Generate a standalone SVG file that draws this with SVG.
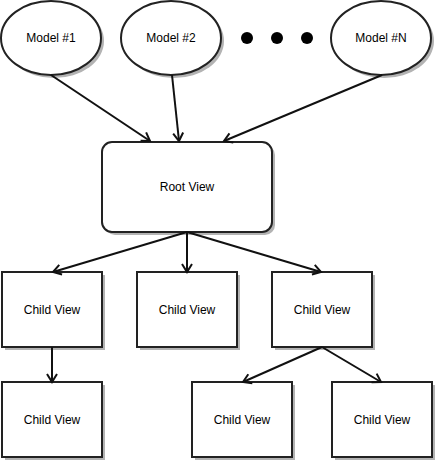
<svg xmlns="http://www.w3.org/2000/svg" width="438" height="463" viewBox="0 0 438 463">
<defs>
<style>
.shape{fill:#fff;stroke:#222;stroke-width:2}
.shadow{fill:#b3b3b3;stroke:none}
.lbl{font-family:"Liberation Sans",Arial,sans-serif;font-size:12px;fill:#000;text-anchor:middle;dominant-baseline:central}
.edge{fill:none;stroke:#111;stroke-width:2}
</style>
<marker id="arr" markerUnits="userSpaceOnUse" markerWidth="14" markerHeight="14" viewBox="0 0 14 14" refX="12" refY="7" orient="auto">
<path d="M4,2 L12,7 L4,12" fill="none" stroke="#111" stroke-width="2"/>
</marker>
</defs>
<rect width="438" height="463" fill="#fff"/>
<g id="model1"><ellipse class="shadow" cx="54" cy="41" rx="50" ry="37"/><ellipse class="shape" cx="51" cy="38" rx="50" ry="37"/><text class="lbl" x="51" y="38">Model #1</text></g>
<g id="model2"><ellipse class="shadow" cx="174" cy="41" rx="50" ry="37"/><ellipse class="shape" cx="171" cy="38" rx="50" ry="37"/><text class="lbl" x="171" y="38">Model #2</text></g>
<g id="dots"><circle cx="247" cy="38" r="6" fill="#000"/><circle cx="277" cy="38" r="6" fill="#000"/><circle cx="307" cy="38" r="6" fill="#000"/></g>
<g id="modelN"><ellipse class="shadow" cx="384" cy="41" rx="50" ry="37"/><ellipse class="shape" cx="381" cy="38" rx="50" ry="37"/><text class="lbl" x="381" y="38">Model #N</text></g>
<g id="root"><rect class="shadow" x="105" y="145" width="170" height="90" rx="10"/><rect class="shape" x="102" y="142" width="170" height="90" rx="10"/><text class="lbl" x="187" y="187">Root View</text></g>
<g id="child1"><rect class="shadow" x="5" y="275" width="100" height="75"/><rect class="shape" x="2" y="272" width="100" height="75"/><text class="lbl" x="52" y="309.5">Child View</text></g>
<g id="child2"><rect class="shadow" x="140" y="275" width="100" height="75"/><rect class="shape" x="137" y="272" width="100" height="75"/><text class="lbl" x="187" y="309.5">Child View</text></g>
<g id="child3"><rect class="shadow" x="275" y="275" width="100" height="75"/><rect class="shape" x="272" y="272" width="100" height="75"/><text class="lbl" x="322" y="309.5">Child View</text></g>
<g id="child4"><rect class="shadow" x="5" y="385" width="100" height="75"/><rect class="shape" x="2" y="382" width="100" height="75"/><text class="lbl" x="52" y="419.5">Child View</text></g>
<g id="child5"><rect class="shadow" x="195" y="385" width="100" height="75"/><rect class="shape" x="192" y="382" width="100" height="75"/><text class="lbl" x="242" y="419.5">Child View</text></g>
<g id="child6"><rect class="shadow" x="335" y="385" width="100" height="75"/><rect class="shape" x="332" y="382" width="100" height="75"/><text class="lbl" x="382" y="419.5">Child View</text></g>
<g id="connectors">
<path class="edge" marker-end="url(#arr)" d="M51,75 L150,141"/>
<path class="edge" marker-end="url(#arr)" d="M172,75 L179,141"/>
<path class="edge" marker-end="url(#arr)" d="M382,75 L224,141"/>
<path class="edge" marker-end="url(#arr)" d="M187,232 L53,272"/>
<path class="edge" marker-end="url(#arr)" d="M187,232 L187,272"/>
<path class="edge" marker-end="url(#arr)" d="M187,232 L321,272"/>
<path class="edge" marker-end="url(#arr)" d="M52,347 L52,382"/>
<path class="edge" marker-end="url(#arr)" d="M322,347 L243,382"/>
<path class="edge" marker-end="url(#arr)" d="M322,347 L381,382"/>
</g>
</svg>
